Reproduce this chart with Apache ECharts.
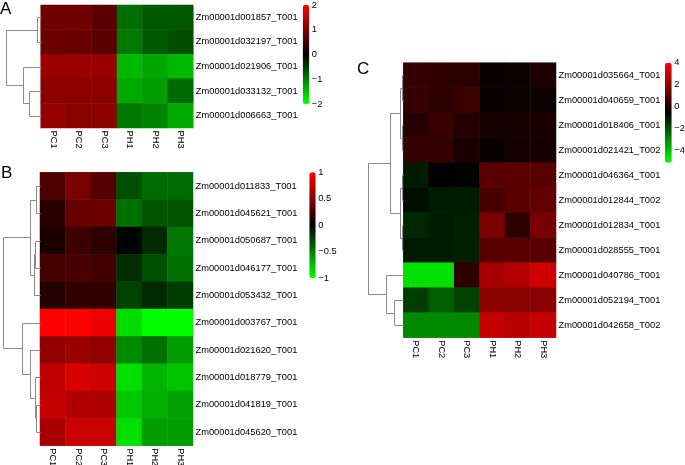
<!DOCTYPE html>
<html><head><meta charset="utf-8">
<script src="https://cdn.jsdelivr.net/npm/echarts@6/dist/echarts.min.js"></script>
<style>html,body{margin:0;padding:0;background:#fff}#c{width:685px;height:465px}</style>
</head><body><div id="c"></div>
<script>
// ---------- data ----------
const samples = ['PC1','PC2','PC3','PH1','PH2','PH3'];

const genesA = ['Zm00001d001857_T001','Zm00001d032197_T001','Zm00001d021906_T001','Zm00001d033132_T001','Zm00001d006663_T001'];
const valuesA = [
  [0.86,0.86,0.70,-0.86,-0.70,-0.68],
  [0.84,0.80,0.70,-0.95,-0.70,-0.62],
  [1.20,1.20,1.18,-1.44,-1.30,-1.44],
  [1.08,1.08,1.08,-1.32,-1.22,-0.83],
  [1.17,1.07,1.08,-0.94,-1.04,-1.33]
];
// merges: [childA, childB, height]; leaves are 0..n-1, new nodes n, n+1, ...
const mergesA = [[0,1,0.097],[3,4,0.326],[2,6,0.497],[5,7,1]];
const legendTicksA = [-2,-1,0,1,2];

const genesB = ['Zm00001d011833_T001','Zm00001d045621_T001','Zm00001d050687_T001','Zm00001d046177_T001','Zm00001d053432_T001','Zm00001d003767_T001','Zm00001d021620_T001','Zm00001d018779_T001','Zm00001d041819_T001','Zm00001d045620_T001'];
const valuesB = [
  [0.30,0.47,0.33,-0.31,-0.42,-0.42],
  [0.16,0.40,0.42,-0.44,-0.33,-0.33],
  [0.10,0.23,0.17,-0.02,-0.17,-0.46],
  [0.27,0.29,0.26,-0.18,-0.32,-0.44],
  [0.14,0.19,0.19,-0.26,-0.16,-0.24],
  [1.00,0.99,0.93,-0.86,-0.99,-0.99],
  [0.56,0.60,0.56,-0.54,-0.44,-0.62],
  [0.75,0.85,0.80,-0.88,-0.70,-0.77],
  [0.77,0.69,0.68,-0.78,-0.69,-0.63],
  [0.66,0.78,0.78,-0.88,-0.62,-0.62]
];
const mergesB = [[0,1,0.107],[2,3,0.134],[11,4,0.153],[10,12,0.268],[8,9,0.099],[7,14,0.134],[6,15,0.268],[5,16,0.49],[13,17,1]];
const legendTicksB = [-1,-0.5,0,0.5,1];

const genesC = ['Zm00001d035664_T001','Zm00001d040659_T001','Zm00001d018406_T001','Zm00001d021421_T002','Zm00001d046364_T001','Zm00001d012844_T002','Zm00001d012834_T001','Zm00001d028555_T001','Zm00001d040786_T001','Zm00001d052194_T001','Zm00001d042658_T002'];
const valuesC = [
  [0.40,0.31,0.25,-0.37,-0.34,-0.01],
  [0.41,0.23,0.48,-0.41,-0.34,-0.34],
  [0.13,0.45,0.13,-0.16,-0.16,-0.09],
  [0.36,0.36,-0.05,-0.41,-0.19,-0.16],
  [-1.05,-0.55,-0.60,1.06,1.06,1.02],
  [-0.80,-1.05,-1.05,0.77,1.06,1.16],
  [-1.26,-1.05,-1.12,1.63,0.23,1.59],
  [-1.01,-1.01,-1.12,1.02,1.02,1.02],
  [-4.55,-4.55,0.20,2.45,2.66,3.09],
  [-1.66,-2.23,-1.73,1.88,1.88,1.91],
  [-3.01,-3.01,-3.01,2.95,2.73,2.95]
];
const mergesC = [[0,1,0.029],[2,3,0.029],[11,12,0.094],[4,5,0.046],[6,7,0.046],[14,15,0.1],[13,16,0.38],[9,10,0.257],[8,18,0.503],[17,19,1]];
const legendTicksC = [-4,-2,0,2,4];

// ---------- helpers ----------
const FONT = 'Liberation Sans, Arial, sans-serif';
const FS = 9.3;
const colors = ['#00ff00','#000000','#ff0000'];
const fmt = v => String(v).replace('-', '\u2212');

function heatData(vals){
  const d=[];
  vals.forEach((row,r)=>row.forEach((v,c)=>d.push([c,r,v])));
  return d;
}
function dendroSegments(n, merges){
  const pos=[], hgt=[];
  for(let i=0;i<n;i++){pos.push(i);hgt.push(0);}
  const out=[];
  merges.forEach(([a,b,h])=>{
    out.push([hgt[a],pos[a],h,hgt[b],pos[b]]);
    pos.push((pos[a]+pos[b])/2); hgt.push(h);
  });
  return out;
}
function renderDendro(params, api){
  const pts=[[api.value(0),api.value(1)],[api.value(2),api.value(1)],[api.value(2),api.value(4)],[api.value(3),api.value(4)]]
    .map(q=>{const c=api.coord(q);return [Math.round(c[0])+0.5, Math.round(c[1])+0.5];});
  return {type:'polyline', shape:{points:pts}, style:{stroke:'#8a8a8a', lineWidth:1, fill:null}, silent:true};
}

const grids = [
  {left:40.7, top:5, width:152.6, height:123},       // 0 heat A
  {left:40, top:172.3, width:153, height:273.4},     // 1 heat B
  {left:403.3, top:62.7, width:152.7, height:275},   // 2 heat C
  {left:0, top:5, width:40.7, height:123},           // 3 dendro A
  {left:0, top:172.3, width:40, height:273.4},       // 4 dendro B
  {left:360, top:62.7, width:43.3, height:275},      // 5 dendro C
  {left:302.7, top:5, width:6.6, height:99},         // 6 legend A
  {left:309.3, top:172.3, width:6.4, height:106},    // 7 legend B
  {left:665, top:62.7, width:6.7, height:100}        // 8 legend C
].map(g=>Object.assign({containLabel:false, outerBoundsMode:'none'}, g));

const xAxes=[], yAxes=[];
// heatmap axes
[genesA,genesB,genesC].forEach((genes,i)=>{
  xAxes.push({type:'category', gridIndex:i, data:samples, position:'bottom',
    axisLine:{show:false}, axisTick:{show:false}, splitLine:{show:false},
    axisLabel:{rotate:-90, margin:2.5, fontSize:FS, color:'#000', fontFamily:FONT}});
  yAxes.push({type:'category', gridIndex:i, data:genes, inverse:true, position:'right',
    axisLine:{show:false}, axisTick:{show:false}, splitLine:{show:false},
    axisLabel:{margin:2.5, fontSize:FS, color:'#000', fontFamily:FONT}});
});
// dendrogram axes
[[genesA,1.163],[genesB,1.072],[genesC,1.237]].forEach(([genes,mx],i)=>{
  xAxes.push({type:'value', gridIndex:3+i, min:0, max:mx, inverse:true, show:false});
  yAxes.push({type:'value', gridIndex:3+i, min:-0.5, max:genes.length-0.5, inverse:true, show:false});
});
// legend axes
[[-2,2,legendTicksA],[-1,1,legendTicksB],[-5.1,4,legendTicksC]].forEach(([mn,mx,ticks],i)=>{
  xAxes.push({type:'value', gridIndex:6+i, show:false, min:0, max:1});
  yAxes.push({type:'value', gridIndex:6+i, min:mn, max:mx, position:'right',
    axisLine:{show:false}, axisTick:{show:false, customValues:ticks}, splitLine:{show:false},
    axisLabel:{customValues:ticks, showMinLabel:true, showMaxLabel:true, margin:2.5, fontSize:FS, color:'#000', fontFamily:FONT, formatter:fmt}});
});

const series = [];
[valuesA,valuesB,valuesC].forEach((vals,i)=>{
  series.push({type:'heatmap', xAxisIndex:i, yAxisIndex:i, data:heatData(vals),
    itemStyle:{borderWidth:0}, emphasis:{disabled:true}, silent:true, progressive:0});
});
[[genesA,mergesA],[genesB,mergesB],[genesC,mergesC]].forEach(([genes,m],i)=>{
  series.push({type:'custom', xAxisIndex:3+i, yAxisIndex:3+i, data:dendroSegments(genes.length,m),
    renderItem:renderDendro, silent:true, clip:false});
});

const vms = [
  {seriesIndex:0, min:-2, max:2, left:302.7, top:5, itemWidth:6.6, itemHeight:99},
  {seriesIndex:1, min:-1, max:1, left:309.3, top:172.3, itemWidth:6.4, itemHeight:106},
  {seriesIndex:2, min:-5.1, max:4, left:665, top:62.7, itemWidth:6.7, itemHeight:100}
].map(v=>Object.assign({type:'continuous', orient:'vertical', padding:0, calculable:false, hoverLink:false,
  inRange:{color:colors}, dimension:2}, v));

const titleStyle = {fontSize:17, fontWeight:'normal', color:'#000', fontFamily:FONT};
const option = {
  animation:false,
  backgroundColor:'#fff',
  title:[
    {text:'A', left:0, top:0.5, padding:0, textStyle:titleStyle},
    {text:'B', left:1, top:164.5, padding:0, textStyle:titleStyle},
    {text:'C', left:357, top:61, padding:0, textStyle:titleStyle}
  ],
  grid:grids, xAxis:xAxes, yAxis:yAxes, visualMap:vms, series:series
};
const chart = echarts.init(document.getElementById('c'), null, {renderer:'canvas'});
chart.setOption(option);
</script></body></html>
